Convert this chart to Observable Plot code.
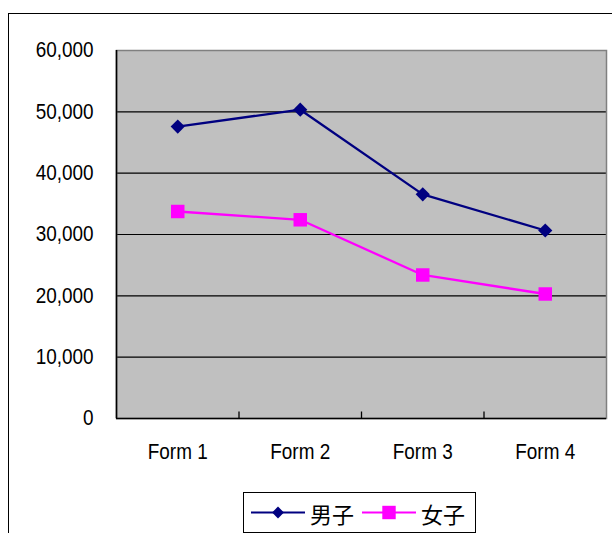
<!DOCTYPE html>
<html>
<head>
<meta charset="utf-8">
<script src="https://cdn.jsdelivr.net/npm/d3@7"></script>
<script src="https://cdn.jsdelivr.net/npm/@observablehq/plot@0.6"></script>
<style>
  html, body { margin: 0; padding: 0; background: #fff; overflow: hidden; }
  body { width: 612px; height: 533px; position: relative; }
  #frame { position: absolute; left: 8px; top: 13px; width: 700px; height: 600px;
           border: 1px solid #000; box-sizing: border-box; }
  #chart { position: absolute; left: 0; top: 0; }
  #legend { position: absolute; left: 243px; top: 492px; width: 233px; height: 41px;
            border: 1px solid #000; box-sizing: border-box; background: #fff; }
  #legend svg { display: block; }
</style>
</head>
<body>
<div id="frame"></div>
<div id="chart"></div>
<div id="legend"></div>
<script>
// Enrolment by form, boys and girls
const forms = ["Form 1", "Form 2", "Form 3", "Form 4"];
const boys = [47600, 50350, 36550, 30650];
const girls = [33750, 32400, 23400, 20300];
const seriesNames = ["男子", "女子"];
const seriesColors = ["#000080", "#ff00ff"];
const yTicks = [0, 10000, 20000, 30000, 40000, 50000, 60000];

const rows = [
  ...forms.map((f, i) => ({form: f, idx: i + 1, value: boys[i], series: seriesNames[0]})),
  ...forms.map((f, i) => ({form: f, idx: i + 1, value: girls[i], series: seriesNames[1]}))
];

// category boundaries for the small inward ticks on the category axis
const bounds = d3.range(1.5, forms.length, 1);

// short upward tick drawn as a custom symbol
const tickUp = {draw(ctx) { ctx.moveTo(0, 0); ctx.lineTo(0, -7); }};

const font = "Arial, 'Liberation Sans', sans-serif";

const chart = Plot.plot({
  width: 612,
  height: 480,
  marginLeft: 116,
  marginRight: 6,
  marginTop: 50,
  marginBottom: 62,
  style: {fontFamily: font, fontSize: "21.5px", color: "#000", background: "transparent", overflow: "visible"},
  x: {type: "linear", domain: [0.5, forms.length + 0.5], ticks: forms.map((_, i) => i + 1),
      tickFormat: i => forms[i - 1], tickSize: 0, tickPadding: 25, label: null},
  y: {domain: [0, 60000], ticks: yTicks, tickFormat: d3.format(","), tickSize: 0, tickPadding: 23, label: null},
  marks: [
    Plot.frame({fill: "#c0c0c0"}),
    Plot.ruleY(yTicks.filter(v => v > 0 && v < 60000), {stroke: "#000", strokeWidth: 1.2}),
    Plot.frame({stroke: "#808080", strokeWidth: 1.5}),
    Plot.ruleX([0.5], {stroke: "#000", strokeWidth: 1.6}),
    Plot.ruleY([0], {stroke: "#000", strokeWidth: 1.6}),
    Plot.dot(bounds, {x: d => d, y: 0, symbol: tickUp, stroke: "#000", strokeWidth: 1.3}),
    Plot.line(rows, {x: "idx", y: "value", z: "series", stroke: d => seriesColors[seriesNames.indexOf(d.series)], strokeWidth: 2.3}),
    Plot.dot(rows.filter(d => d.series === seriesNames[0]),
      {x: "idx", y: "value", symbol: "diamond2", r: 6.4, fill: seriesColors[0], stroke: "none"}),
    Plot.dot(rows.filter(d => d.series === seriesNames[1]),
      {x: "idx", y: "value", symbol: "square", r: 7.6, fill: seriesColors[1], stroke: "none"})
  ]
});
document.getElementById("chart").appendChild(chart);

// narrow the axis lettering horizontally, keeping each label's anchor in place
d3.select(chart).selectAll("g[aria-label$='tick label'] text, g[aria-label='x-axis'] text, g[aria-label='y-axis'] text")
  .each(function() {
    const t = this.getAttribute("transform") || "";
    this.setAttribute("transform", (t + " scale(0.88,1)").trim());
  });

// legend below the plot
const lg = d3.select("#legend").append("svg").attr("width", 231).attr("height", 39);
const items = [
  {name: seriesNames[0], color: seriesColors[0], x0: 7, sym: d3.symbolDiamond2, size: 90},
  {name: seriesNames[1], color: seriesColors[1], x0: 118, sym: d3.symbolSquare, size: 180}
];
items.forEach(it => {
  const g = lg.append("g");
  g.append("line").attr("x1", it.x0).attr("x2", it.x0 + 54).attr("y1", 19.5).attr("y2", 19.5)
    .attr("stroke", it.color).attr("stroke-width", 2);
  g.append("path").attr("d", d3.symbol(it.sym, it.size)())
    .attr("transform", `translate(${it.x0 + 27},19.5)`).attr("fill", it.color);
  g.append("text").attr("x", it.x0 + 59).attr("y", 20).attr("dominant-baseline", "central")
    .attr("font-family", "'Noto Sans CJK JP', 'Noto Sans CJK SC', sans-serif").attr("font-size", 22)
    .attr("fill", "#000").text(it.name);
});
</script>
</body>
</html>
